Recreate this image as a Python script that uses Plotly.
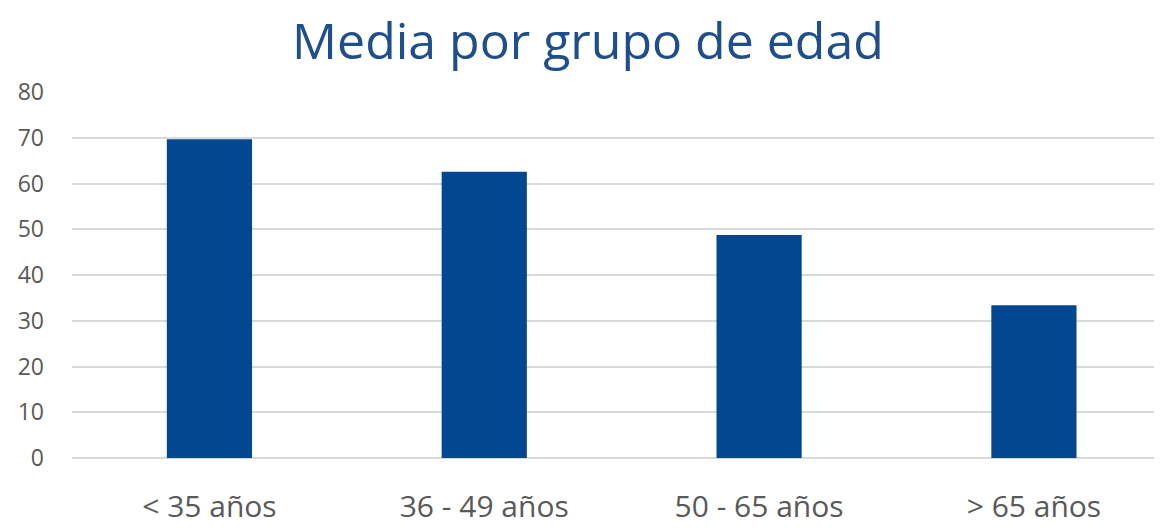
import plotly.graph_objects as go

categories = ["< 35 años", "36 - 49 años", "50 - 65 años", "> 65 años"]
values = [69.7, 62.6, 48.8, 33.4]
y_ticks = [0, 10, 20, 30, 40, 50, 60, 70, 80]
title_text = "Media por grupo de edad"

fig = go.Figure(go.Bar(x=categories, y=values, marker=dict(color="#02478F", line=dict(width=0)), width=0.31))

# the page body adds an 8px offset, so margins compensate for it
fig.update_layout(
    width=1162, height=528,
    margin=dict(l=64, r=8, t=84, b=78),
    paper_bgcolor="white", plot_bgcolor="white",
    title=dict(text=title_text, x=0.4991, xanchor="center", y=1 - 33 / 528, yanchor="middle",
               yref="container", font=dict(family="Open Sans", size=50, color="#1F4E8C")),
    showlegend=False,
)
fig.update_xaxes(range=[-0.5, 3.466], showgrid=False, showline=False, ticks="", automargin=False,
                 tickfont=dict(family="Open Sans", size=30, color="#595959"), ticklabelstandoff=28)
fig.update_yaxes(range=[0, 80.05], tickvals=y_ticks, showgrid=True, gridcolor="#D9D9D9", gridwidth=2,
                 zeroline=True, zerolinecolor="#D9D9D9", zerolinewidth=2, showline=False, ticks="",
                 automargin=False,
                 tickfont=dict(family="Open Sans", size=23, color="#595959"), ticklabelstandoff=27)

fig.write_html("out.html")
